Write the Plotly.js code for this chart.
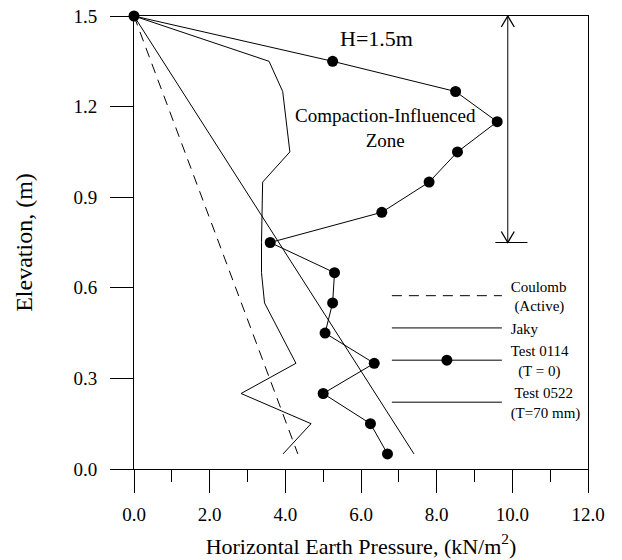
<!DOCTYPE html>
<html>
<head>
<meta charset="utf-8">
<script src="https://cdn.plot.ly/plotly-3.0.1.min.js"></script>
<style>html,body{margin:0;padding:0;background:#fff}#chart{width:622px;height:560px}</style>
</head>
<body>
<div id="chart"></div>
<script>
// Data
const coulombX = [0, 4.33];
const coulombY = [1.5, 0.05];
const jakyX = [0, 7.4];
const jakyY = [1.5, 0.05];
const test0114X = [0, 5.25, 8.5, 9.6, 8.55, 7.8, 6.55, 3.6, 5.3, 5.25, 5.05, 6.35, 5.0, 6.25, 6.7];
const test0114Y = [1.5, 1.35, 1.25, 1.15, 1.05, 0.95, 0.85, 0.75, 0.65, 0.55, 0.45, 0.35, 0.25, 0.15, 0.05];
const test0522X = [0, 3.57, 3.93, 4.12, 3.4, 3.38, 3.37, 3.37, 3.45, 4.28, 2.83, 4.68, 3.94];
const test0522Y = [1.5, 1.35, 1.25, 1.05, 0.95, 0.85, 0.75, 0.65, 0.55, 0.35, 0.25, 0.15, 0.05];
const seriesNames = ['\u00A0Coulomb<br>\u00A0\u00A0(Active)', '\u00A0Jaky', '\u00A0Test 0114<br>\u00A0\u00A0\u00A0(T = 0)', '\u00A0\u00A0Test 0522<br>\u00A0(T=70 mm)'];

// Compaction zone marker (H = 1.5 m)
const zoneX = 9.88;
const zoneTop = 1.5;
const zoneBottom = 0.75;

const FONT = 'Liberation Serif';

const traces = [
  {x: coulombX, y: coulombY, name: seriesNames[0], mode: 'lines',
   line: {color: '#000', width: 1, dash: '10px,7px'}},
  {x: jakyX, y: jakyY, name: seriesNames[1], mode: 'lines',
   line: {color: '#000', width: 1}},
  {x: test0114X, y: test0114Y, name: seriesNames[2], mode: 'lines+markers',
   line: {color: '#000', width: 1}, marker: {color: '#000', size: 11}, cliponaxis: false},
  {x: test0522X, y: test0522Y, name: seriesNames[3], mode: 'lines',
   line: {color: '#000', width: 1}}
];

const layout = {
  width: 622, height: 560,
  margin: {l: 134, r: 34, t: 16, b: 91},
  paper_bgcolor: '#fff', plot_bgcolor: '#fff',
  font: {family: FONT, color: '#000', size: 19},
  showlegend: true,
  legend: {x: 0.557, y: 0.44, xanchor: 'left', yanchor: 'top',
    bgcolor: 'rgba(0,0,0,0)', borderwidth: 0, itemwidth: 110,
    font: {family: FONT, size: 15, color: '#000'}, valign: 'middle'},
  xaxis: {
    range: [0, 12], tick0: 0, dtick: 2, tickformat: '.1f',
    ticks: 'outside', ticklen: 23, tickwidth: 1, tickcolor: '#000',
    showline: true, mirror: true, linecolor: '#000', linewidth: 1,
    showgrid: false, zeroline: false,
    minor: {dtick: 1, ticks: 'outside', ticklen: 12, tickwidth: 1, tickcolor: '#000', showgrid: false},
    tickfont: {family: FONT, size: 19, color: '#000'},
    ticklabelstandoff: 5,
    title: {text: 'Horizontal Earth Pressure, (kN/m<sup>2</sup>)', font: {family: FONT, size: 22, color: '#000'}, standoff: 14}
  },
  yaxis: {
    range: [0, 1.5], tick0: 0, dtick: 0.3, tickformat: '.1f',
    ticks: 'outside', ticklen: 23, tickwidth: 1, tickcolor: '#000',
    showline: true, mirror: true, linecolor: '#000', linewidth: 1,
    showgrid: false, zeroline: false,
    tickfont: {family: FONT, size: 19, color: '#000'},
    ticklabelstandoff: 9,
    title: {text: 'Elevation, (m)', font: {family: FONT, size: 24, color: '#000'}, standoff: 34}
  },
  annotations: [
    {x: 6.42, y: 1.427, xref: 'x', yref: 'y', text: 'H=1.5m', showarrow: false,
     font: {family: FONT, size: 22, color: '#000'}},
    {x: 6.66, y: 1.129, xref: 'x', yref: 'y', text: 'Compaction-Influenced<br>Zone', showarrow: false,
     align: 'center', font: {family: FONT, size: 19, color: '#000'}}
  ],
  shapes: [
    {type: 'line', xref: 'x', yref: 'y', x0: zoneX, x1: zoneX, y0: zoneBottom, y1: zoneTop,
     line: {color: '#000', width: 1}},
    {type: 'line', xref: 'x', yref: 'y', x0: zoneX - 0.33, x1: zoneX + 0.52, y0: zoneBottom, y1: zoneBottom,
     line: {color: '#000', width: 1}},
    {type: 'path', xref: 'x', yref: 'y', xsizemode: 'pixel', ysizemode: 'pixel',
     xanchor: zoneX, yanchor: zoneTop, path: 'M-6.5,-11L0,0L6.5,-11',
     line: {color: '#000', width: 1.3}},
    {type: 'path', xref: 'x', yref: 'y', xsizemode: 'pixel', ysizemode: 'pixel',
     xanchor: zoneX, yanchor: zoneBottom, path: 'M-6.5,11L0,0L6.5,11',
     line: {color: '#000', width: 1.3}}
  ]
};

Plotly.newPlot('chart', traces, layout, {staticPlot: true, displayModeBar: false});
</script>
</body>
</html>
